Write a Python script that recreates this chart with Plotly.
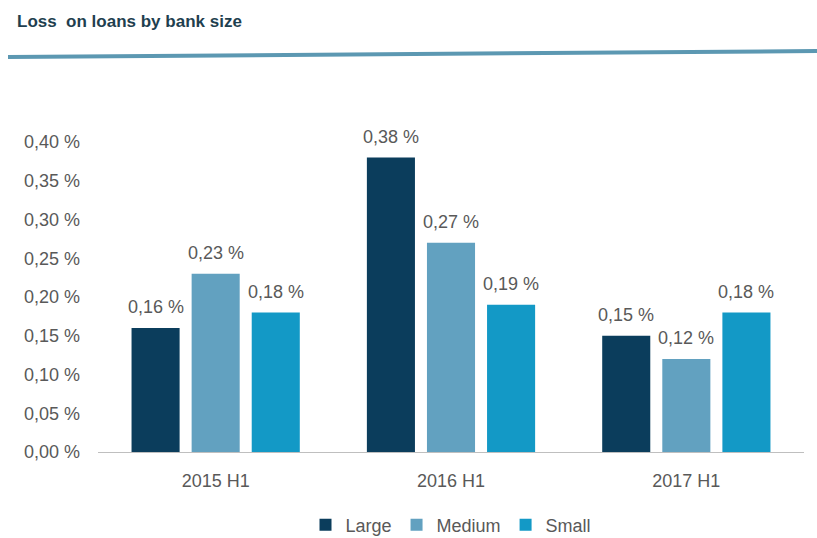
import plotly.graph_objects as go

periods = ["2015 H1", "2016 H1", "2017 H1"]
large = [0.16, 0.38, 0.15]
medium = [0.23, 0.27, 0.12]
small = [0.18, 0.19, 0.18]
tick_vals = [0.00, 0.05, 0.10, 0.15, 0.20, 0.25, 0.30, 0.35, 0.40]

series = [
    ("Large", large, "#0b3d5c"),
    ("Medium", medium, "#62a1c0"),
    ("Small", small, "#1399c6"),
]


def pct(v):
    return f"{v:.2f}".replace(".", ",") + " %"


W, H = 817, 538
L, R, T, B = 98, 13, 142, 86
pw, ph = W - L - R, H - T - B
BARGAP, GROUPGAP = 0.234, 0.2
slot_px = pw / len(periods) * (1 - BARGAP) / len(series)

fig = go.Figure()
annotations = []
for i, (name, vals, color) in enumerate(series):
    fig.add_trace(go.Bar(
        name=name, x=periods, y=vals,
        marker=dict(color=color, line=dict(width=0)),
    ))
    # value labels sit a little above each bar
    for p, v in zip(periods, vals):
        annotations.append(dict(
            x=p, y=v, xref="x", yref="y", text=pct(v), showarrow=False,
            xanchor="center", yanchor="bottom", xshift=(i - 1) * slot_px, yshift=9,
            font=dict(size=18, color="#595959"),
        ))

annotations.append(dict(
    text="<b>Loss  on loans by bank size</b>", xref="paper", yref="paper",
    x=(15 - L) / pw, y=1 + (T - 22) / ph, xanchor="left", yanchor="middle",
    showarrow=False,
    font=dict(family="Liberation Sans Narrow, Liberation Sans, Arial", size=17, color="#1f3f4f"),
))

fig.update_layout(
    width=W, height=H,
    margin=dict(l=L, r=R, t=T, b=B, autoexpand=False),
    paper_bgcolor="white", plot_bgcolor="white",
    font=dict(family="Liberation Sans, Arial, sans-serif", color="#595959", size=18),
    barmode="group", bargap=BARGAP, bargroupgap=GROUPGAP,
    showlegend=True,
    legend=dict(orientation="h", x=0.5, xanchor="center",
                yref="container", y=13 / H, yanchor="middle",
                font=dict(size=18, color="#595959"), itemwidth=30,
                traceorder="normal"),
    xaxis=dict(showgrid=False, showline=True, linecolor="#bfbfbf", linewidth=1,
               ticks="", ticklabelstandoff=12, tickfont=dict(size=18)),
    yaxis=dict(range=[0, 0.4], showgrid=False, zeroline=False, showline=False,
               tickvals=tick_vals, ticktext=[pct(v) for v in tick_vals],
               ticklabelstandoff=17, tickfont=dict(size=18)),
    annotations=annotations,
    shapes=[dict(
        type="line", xref="paper", yref="paper",
        x0=(8 - L) / pw, x1=1 + R / pw, y0=1 + (T - 57) / ph, y1=1 + (T - 51) / ph,
        line=dict(color="#5c98b2", width=4),
    )],
)

fig.write_html("out.html")
